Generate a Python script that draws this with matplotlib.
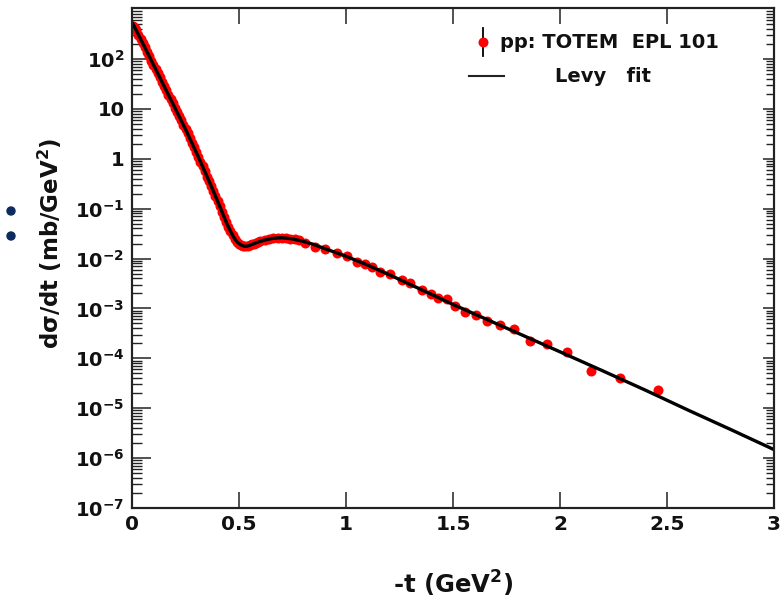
import numpy as np
import matplotlib
matplotlib.use("Agg")
import matplotlib.pyplot as plt
from matplotlib.ticker import (FixedLocator, FixedFormatter, LogLocator,
                               NullFormatter, NullLocator)
from matplotlib.patches import Ellipse

plt.rcParams["font.family"] = "DejaVu Sans"
plt.rcParams["font.weight"] = "bold"
plt.rcParams["mathtext.fontset"] = "dejavusans"
plt.rcParams["mathtext.default"] = "bf"

# TOTEM pp elastic data, -t in GeV^2 and dsigma/dt in mb/GeV^2
data_t = [0.005, 0.012, 0.02, 0.03, 0.04, 0.05, 0.06, 0.07, 0.08, 0.09,
          0.10, 0.11, 0.12, 0.13, 0.14, 0.15, 0.16, 0.17, 0.18, 0.19,
          0.20, 0.21, 0.22, 0.23, 0.24, 0.25, 0.26, 0.27, 0.28, 0.29,
          0.30, 0.31, 0.32, 0.33, 0.34, 0.35, 0.36, 0.37, 0.38, 0.39,
          0.40, 0.41, 0.42, 0.43, 0.44, 0.45, 0.46, 0.47, 0.48, 0.49,
          0.50, 0.51, 0.52, 0.53, 0.54, 0.55, 0.56, 0.57, 0.58, 0.59,
          0.60, 0.62, 0.64, 0.66, 0.68, 0.70, 0.72, 0.74, 0.76, 0.78,
          0.808, 0.856, 0.902, 0.957, 1.004, 1.051, 1.090, 1.121, 1.160, 1.207,
          1.262, 1.301, 1.356, 1.398, 1.430, 1.473, 1.511, 1.554, 1.609, 1.660,
          1.720, 1.785, 1.859, 1.941, 2.035, 2.145, 2.282, 2.457]
data_dsdt = [450, 425, 372, 305, 253, 206, 170, 139, 114, 93,
             77, 63, 52, 42.5, 35, 28.5, 23.5, 19.3, 15.8, 12.9,
             10.6, 8.7, 7.1, 5.9, 4.8, 3.9, 3.3, 2.6, 2.1, 1.68,
             1.35, 1.1, 0.88, 0.70, 0.56, 0.44, 0.35, 0.28, 0.225, 0.18,
             0.141, 0.111, 0.087, 0.068, 0.054, 0.0435, 0.035, 0.029, 0.0245, 0.0218,
             0.0200, 0.0186, 0.0178, 0.0175, 0.0178, 0.0184, 0.0192, 0.0199, 0.0207, 0.0214,
             0.0221, 0.0233, 0.0245, 0.0253, 0.0259, 0.0262, 0.0256, 0.0250, 0.0242, 0.0230,
             0.0209, 0.0174, 0.0155, 0.0132, 0.0110, 0.0087, 0.0078, 0.0069, 0.0053, 0.0049,
             0.0037, 0.0032, 0.0023, 0.00195, 0.00162, 0.00151, 0.0011, 0.00083, 0.00074, 0.00056,
             0.00046, 0.00038, 0.00022, 0.00019, 0.000132, 5.6e-5, 4.1e-5, 2.3e-5]

# Levy fit curve
fit_t = [0.004, 0.05, 0.10, 0.15, 0.20, 0.25, 0.30, 0.34, 0.38, 0.41,
         0.44, 0.45, 0.46, 0.47, 0.48, 0.49, 0.50, 0.51, 0.52, 0.53,
         0.54, 0.55, 0.56, 0.58, 0.60, 0.62, 0.64, 0.66, 0.68, 0.70,
         0.72, 0.75, 0.80, 0.85, 0.90, 0.95, 1.00, 1.10, 1.20, 1.30,
         1.40, 1.50, 1.60, 1.70, 1.80, 1.90, 2.00, 2.20, 2.40, 2.60,
         2.80, 3.00]
fit_dsdt = [510, 207, 77, 28.5, 10.6, 3.9, 1.35, 0.56, 0.225, 0.111,
            0.054, 0.0435, 0.0355, 0.0295, 0.0247, 0.0219, 0.0200, 0.0186, 0.0179, 0.0176,
            0.0178, 0.0184, 0.0191, 0.0207, 0.0221, 0.0234, 0.0245, 0.0254, 0.0259, 0.0260,
            0.0257, 0.0247, 0.0221, 0.0191, 0.0158, 0.0133, 0.0111, 0.00741, 0.00479, 0.00302,
            0.00191, 0.0012, 0.000776, 0.000501, 0.000324, 0.000209, 0.000135, 5.6e-5, 2.29e-5, 9.1e-6,
            3.7e-6, 1.48e-6]

x_ticks = [0, 0.5, 1, 1.5, 2, 2.5, 3]
x_tick_labels = ["0", "0.5", "1", "1.5", "2", "2.5", "3"]
y_ticks = [1e-7, 1e-6, 1e-5, 1e-4, 1e-3, 1e-2, 1e-1, 1, 10, 1e2]
y_tick_labels = [r"$10^{-7}$", r"$10^{-6}$", r"$10^{-5}$", r"$10^{-4}$",
                 r"$10^{-3}$", r"$10^{-2}$", r"$10^{-1}$", "1", "10", r"$10^{2}$"]

W, H = 784, 604
fig = plt.figure(figsize=(W / 100, H / 100), dpi=100)
ax = fig.add_axes([132 / W, 96 / H, 642 / W, 500 / H])

ax.plot(data_t, data_dsdt, "o", color="#ff0000", ms=7.2, mec="none", zorder=2)
ax.plot(fit_t, fit_dsdt, "-", color="black", lw=2.4, zorder=3)

ax.set_yscale("log")
ax.set_xlim(0, 3)
ylim = (1e-7, 1.05e3)
ax.set_ylim(*ylim)

ax.xaxis.set_major_locator(FixedLocator(x_ticks))
ax.xaxis.set_major_formatter(FixedFormatter(x_tick_labels))
ax.xaxis.set_minor_locator(NullLocator())
ax.yaxis.set_major_locator(FixedLocator(y_ticks))
ax.yaxis.set_major_formatter(FixedFormatter(y_tick_labels))
ax.yaxis.set_minor_locator(LogLocator(base=10, subs=np.arange(2, 10), numticks=30))
ax.yaxis.set_minor_formatter(NullFormatter())

tick_col = "#222222"
ax.tick_params(axis="x", which="major", direction="in", length=11.5, width=1.1,
               top=True, bottom=True, labelsize=14.5, pad=5, colors=tick_col,
               labelcolor="#111111")
ax.tick_params(axis="y", which="major", direction="in", length=13.7, width=1.1,
               left=True, right=False, labelsize=14, pad=5.5, colors=tick_col,
               labelcolor="#111111")
ax.tick_params(axis="y", which="minor", direction="in", length=7, width=1.0,
               left=True, right=False, colors=tick_col)

# right-hand axis carries its own shorter ticks
ax2 = ax.twinx()
ax2.set_yscale("log")
ax2.set_ylim(*ylim)
ax2.yaxis.set_major_locator(FixedLocator(y_ticks))
ax2.yaxis.set_minor_locator(LogLocator(base=10, subs=np.arange(2, 10), numticks=30))
ax2.yaxis.set_major_formatter(NullFormatter())
ax2.yaxis.set_minor_formatter(NullFormatter())
ax2.tick_params(axis="y", which="major", direction="in", length=8, width=1.1,
                right=True, labelright=False, colors=tick_col)
ax2.tick_params(axis="y", which="minor", direction="in", length=5.5, width=1.0,
                right=True, labelright=False, colors=tick_col)

for a in (ax, ax2):
    for sp in a.spines.values():
        sp.set_linewidth(1.5)
        sp.set_color(tick_col)

# legend
ax.plot([0.547, 0.547], [0.905, 0.96], color="black", lw=1.3,
        transform=ax.transAxes, zorder=4, clip_on=False)
ax.plot([0.547], [0.932], "o", color="#ff0000", ms=7.2, mec="none",
        transform=ax.transAxes, zorder=5, clip_on=False)
ax.text(0.573, 0.92, "pp: TOTEM  EPL 101", transform=ax.transAxes,
        fontsize=14, fontweight="bold", ha="left", va="baseline", color="#111111")
ax.plot([0.5245, 0.5794], [0.864, 0.864], color="#222222", lw=1.5,
        transform=ax.transAxes, zorder=4)
ax.text(0.659, 0.8526, "Levy   fit", transform=ax.transAxes,
        fontsize=14, fontweight="bold", ha="left", va="baseline", color="#111111")

fig.text(50 / W, 1 - 243 / H, "dσ/dt (mb/GeV$^{2}$)", rotation=90,
         ha="center", va="center", fontsize=16.5, fontweight="bold", color="#111111")
fig.text(453 / W, 1 - 584 / H, "-t (GeV$^{2}$)", ha="center", va="center",
         fontsize=17.5, fontweight="bold", color="#111111")

for yb in (211, 236):
    fig.add_artist(Ellipse((11 / W, 1 - yb / H), 8 / W, 8 / H,
                           transform=fig.transFigure, color="#0c2b5e"))

fig.savefig("out.png", dpi=100)
